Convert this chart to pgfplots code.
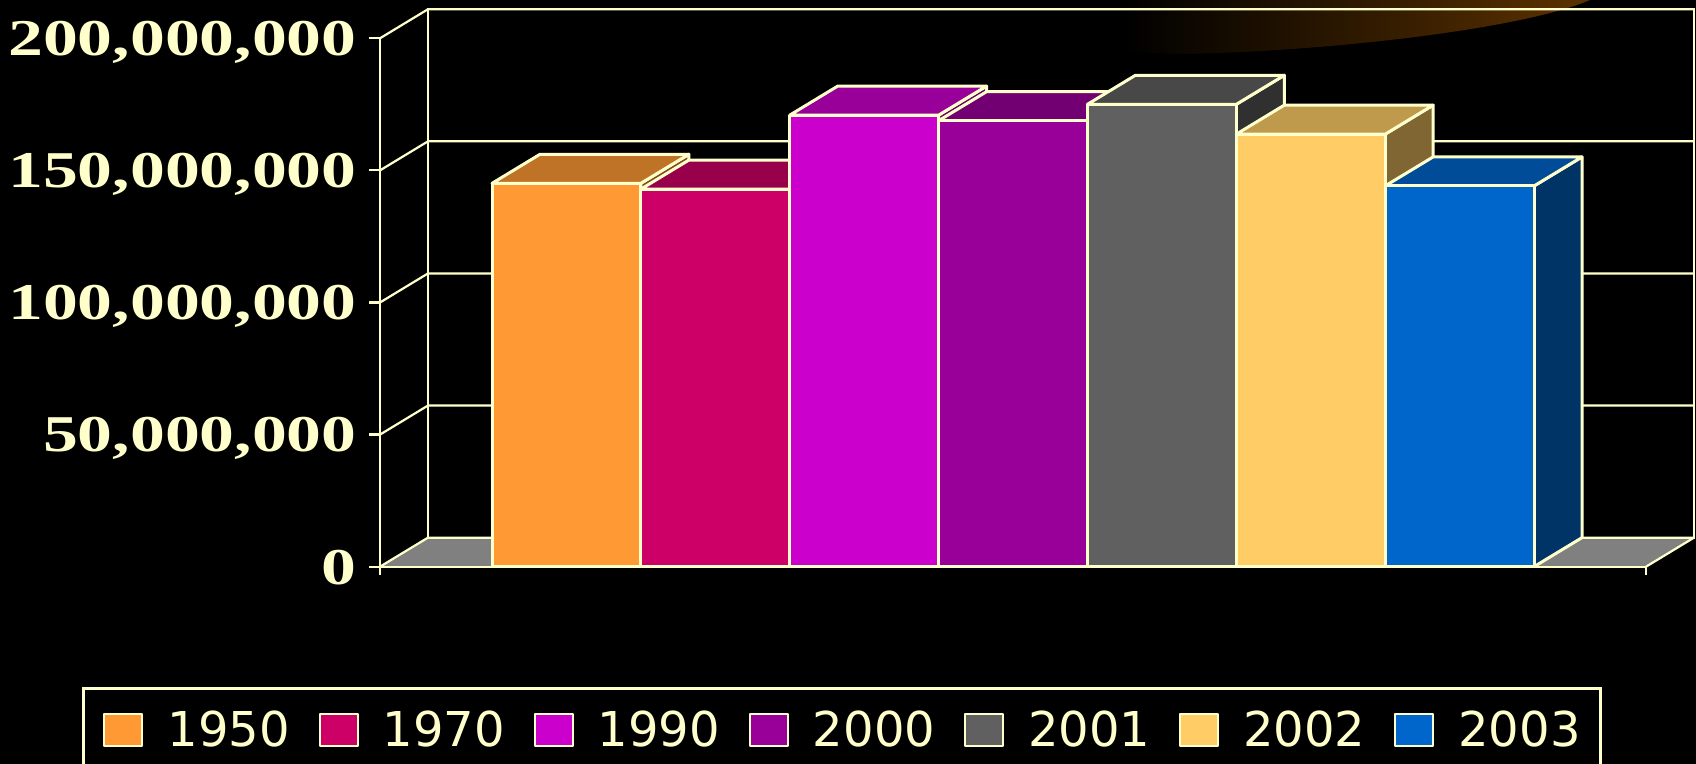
\documentclass[border=0pt]{standalone}
\usepackage{pgfplots}
\pgfplotsset{compat=1.18}
\usepackage{fontspec}
\newfontfamily\ylabfont[FakeStretch=1.35]{Liberation Serif}
\newfontfamily\legfont{DejaVu Sans}
\definecolor{cream}{HTML}{FFFFCC}
\definecolor{c1950}{HTML}{FF9933}
\definecolor{c1970}{HTML}{CC0066}
\definecolor{c1990}{HTML}{CC00CC}
\definecolor{c2000}{HTML}{990099}
\definecolor{c2001}{HTML}{606060}
\definecolor{c2002}{HTML}{FFCC66}
\definecolor{c2003}{HTML}{0066CC}
\definecolor{swoosh}{HTML}{5C3200}
\definecolor{floorgray}{HTML}{808080}

% one 3-D bar: #1 position index, #2 value (millions), #3 colour, #4 legend text
\newcommand\threedbar[4]{%
  \pgfmathsetmacro\xa{112+#1*148.857}%
  \pgfmathsetmacro\xb{\xa+148.857}%
  \pgfmathsetmacro\xc{\xa+48}%
  \pgfmathsetmacro\xd{\xb+48}%
  \pgfmathsetmacro\yt{#2+11}%
  \edef\tmp{%
    \noexpand\addplot[fill=#3!50!black, draw=cream, line width=1.5pt, line join=round, forget plot]
      coordinates {(\xb,0) (\xd,11) (\xd,\yt) (\xb,#2)} -- cycle;
    \noexpand\addplot[fill=#3!75!black, draw=cream, line width=1.5pt, line join=round, forget plot]
      coordinates {(\xa,#2) (\xb,#2) (\xd,\yt) (\xc,\yt)} -- cycle;
    \noexpand\addplot[fill=#3, draw=cream, line width=1.5pt, line join=round]
      coordinates {(\xa,0) (\xb,0) (\xb,#2) (\xa,#2)} -- cycle;
    \noexpand\addlegendentry{#4}%
  }\tmp}

\begin{document}
\begin{tikzpicture}
\path[fill=black, use as bounding box] (0,0) rectangle (848pt,382pt);
\shade[left color=black, right color=swoosh]
  (562pt,382pt) -- (795pt,382pt) .. controls (760pt,367pt) and (660pt,356pt) .. (590pt,355pt) -- (562pt,356pt) -- cycle;
\begin{axis}[
  at={(190pt,98.65pt)}, anchor=south west,
  scale only axis, width=633pt, height=264.2pt,
  xmin=0, xmax=1266, ymin=0, ymax=200,
  clip=false,
  axis lines*=left, axis line style={draw=none},
  xtick=\empty, ytick={0,50,100,150,200},
  yticklabels={0,{50,000,000},{100,000,000},{150,000,000},{200,000,000}},
  ytick style={draw=none},
  yticklabel style={font=\ylabfont\bfseries\fontsize{25.8}{28}\selectfont, text=cream,
    anchor=base east, inner sep=0pt, xshift=-11.5pt, yshift=-8.7pt},
  legend columns=7,
  legend style={at={(-0.2354,-0.2277)}, anchor=north west, draw=cream, line width=1.5pt,
    fill=black, text=cream, font=\legfont\fontsize{24}{28}\selectfont,
    inner xsep=10pt, inner ysep=11pt, nodes={inner sep=0pt},
    /tikz/every odd column/.append style={column sep=12pt},
    /tikz/every even column/.append style={column sep=14.5pt}},
  legend image code/.code={\draw[#1, draw=cream, line width=1pt] (0pt,-8pt) rectangle (19pt,8pt);},
]
% back wall, floor
\fill[floorgray] (axis cs:0,0) -- (axis cs:1266,0) -- (axis cs:1314,11) -- (axis cs:48,11) -- cycle;
\draw[cream, line width=1.1pt] (axis cs:48,11) rectangle (axis cs:1314,211);
\pgfplotsinvokeforeach{0,50,100,150,200}{
  \draw[cream, line width=1.1pt] (axis cs:0,#1) -- (axis cs:48,#1+11) -- (axis cs:1314,#1+11);
}
\draw[cream, line width=1.1pt] (axis cs:1266,0) -- (axis cs:1314,11);

\threedbar{0}{145.1}{c1950}{1950}
\threedbar{1}{142.9}{c1970}{1970}
\threedbar{2}{170.9}{c1990}{1990}
\threedbar{3}{168.8}{c2000}{2000}
\threedbar{4}{175.0}{c2001}{2001}
\threedbar{5}{163.7}{c2002}{2002}
\threedbar{6}{144.1}{c2003}{2003}

% front axis lines and ticks
\draw[cream, line width=1.1pt] (axis cs:0,-3) -- (axis cs:0,200);
\draw[cream, line width=1.1pt] (axis cs:0,0) -- (axis cs:1266,0) -- (axis cs:1266,-3);
\pgfplotsinvokeforeach{0,50,100,150,200}{
  \draw[cream, line width=1.1pt] (axis cs:0,#1) -- ++(-5.5pt,0pt);
}
\end{axis}
\end{tikzpicture}
\end{document}
